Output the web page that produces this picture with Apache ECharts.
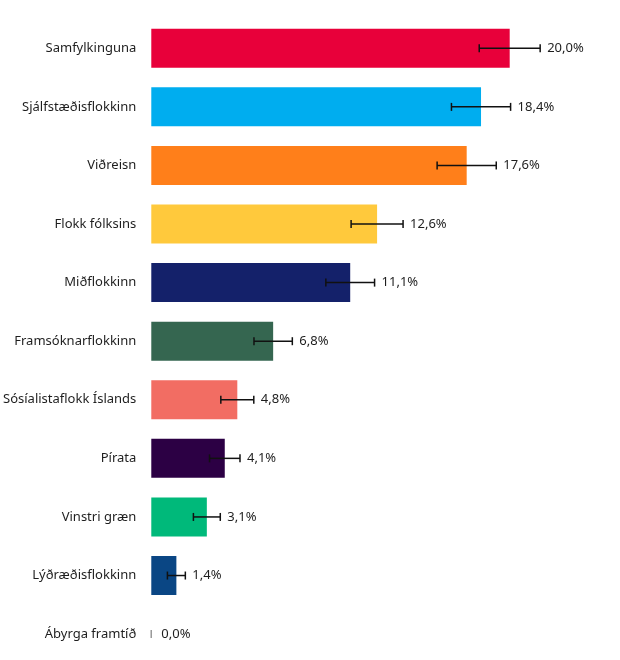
<!DOCTYPE html>
<html>
<head>
<meta charset="utf-8">
<script src="https://cdn.jsdelivr.net/npm/echarts@6/dist/echarts.min.js"></script>
<style>
html,body{margin:0;padding:0;background:#fff;overflow:hidden;}
#chart{width:620px;height:680px;}
</style>
</head>
<body>
<div id="chart"></div>
<script>
const categories = ["Samfylkinguna","Sjálfstæðisflokkinn","Viðreisn","Flokk fólksins","Miðflokkinn","Framsóknarflokkinn","Sósíalistaflokk Íslands","Pírata","Vinstri græn","Lýðræðisflokkinn","Ábyrga framtíð"];
const values = [20.0, 18.4, 17.6, 12.6, 11.1, 6.8, 4.8, 4.1, 3.1, 1.4, 0.0];
const errors = [1.7, 1.65, 1.65, 1.45, 1.36, 1.07, 0.92, 0.85, 0.75, 0.5, 0];
const colors = ["#E8003A","#00ADEF","#FF7F1A","#FFC93C","#14216A","#356650","#F26D63","#2C0044","#00B97A","#0A4684","#0A4684"];

const fmt = v => v.toFixed(1).replace('.', ',') + '%';
const FONT = '"Noto Sans", sans-serif';

const chart = echarts.init(document.getElementById('chart'), null, {renderer: 'canvas'});
chart.setOption({
  animation: false,
  backgroundColor: '#ffffff',
  grid: {left: 150, top: 19, width: 449.3, height: 644.4, containLabel: false},
  xAxis: {type: 'value', min: 0, max: 25, show: false},
  yAxis: {
    type: 'category', inverse: true, data: categories,
    axisLine: {show: false}, axisTick: {show: false}, splitLine: {show: false},
    axisLabel: {margin: 15, color: '#1e1e1e', fontSize: 13, fontFamily: FONT}
  },
  series: [
    {
      type: 'bar',
      barWidth: 39,
      z: 2,
      data: values.map((v, i) => ({value: v, itemStyle: {color: colors[i]}}))
    },
    {
      type: 'custom',
      z: 10,
      encode: {x: [1, 2], y: 0},
      data: values.map((v, i) => [i, v - errors[i], v + errors[i], v]),
      renderItem: function (params, api) {
        const cat = api.value(0);
        const p1 = api.coord([api.value(1), cat]);
        const p2 = api.coord([api.value(2), cat]);
        const h = 4;
        const st = {stroke: '#111', lineWidth: 1.5};
        const isZero = api.value(3) === 0;
        const capStyle = isZero ? {stroke: '#999', lineWidth: 1.2} : st;
        return {
          type: 'group',
          children: [
            {type: 'line', shape: {x1: p1[0], y1: p1[1], x2: p2[0], y2: p2[1]}, style: st},
            {type: 'line', shape: {x1: p1[0], y1: p1[1] - h, x2: p1[0], y2: p1[1] + h}, style: capStyle},
            {type: 'line', shape: {x1: p2[0], y1: p2[1] - h, x2: p2[0], y2: p2[1] + h}, style: capStyle},
            {type: 'text', style: {
              x: p2[0] + (isZero ? 10 : 7), y: p2[1], text: fmt(api.value(3)),
              fill: '#1e1e1e', font: '13px ' + FONT, align: 'left', verticalAlign: 'middle'
            }}
          ]
        };
      }
    }
  ]
});
</script>
</body>
</html>
